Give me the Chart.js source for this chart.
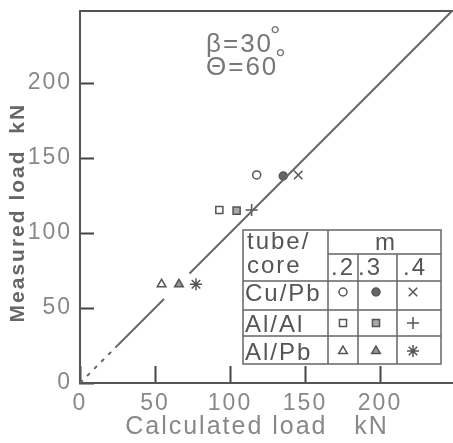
<!DOCTYPE html>
<html>
<head>
<meta charset="utf-8">
<script src="https://cdn.jsdelivr.net/npm/chart.js"></script>
<style>
  body { margin: 0; background: #fff; }
</style>
</head>
<body>
<canvas id="loadChart" width="453" height="443"></canvas>
<script>
// values (kN)
const mLabels = [".2", ".3", ".4"];
const tubeCore = ["Cu/Pb", "Al/Al", "Al/Pb"];
const calcCuPb = [117.8, 135.5, 145.5];
const measCuPb = [138.7, 138, 138.7];
const calcAlAl = [92.9, 104.4, 114.4];
const measAlAl = [115.3, 114.9, 115.3];
const calcAlPb = [54.4, 66, 77.3];
const measAlPb = [65.8, 65.8, 65.8];
const lineBreaks = [0, 25, 56, 73, 248]; // measured = calculated, dashed near 0, broken at the triangles
const axisTicks = [0, 50, 100, 150, 200];
const notes = ["\u03B2=30", "\u0398=60"];

const shapes = [["circle", "circle", "crossRot"], ["rect", "rect", "cross"], ["triangle", "triangle", "star"]];
const fills = [["#fff", "#666", "#fff"], ["#fff", "#aaa", "#fff"], ["#fff", "#999", "#fff"]];
const radii = [[4, 4, 6], [5, 5, 6], [5, 5, 6]];
const calc = [calcCuPb, calcAlAl, calcAlPb];
const meas = [measCuPb, measAlAl, measAlPb];

const datasets = [{
  label: "measured = calculated",
  data: lineBreaks.map(v => ({ x: v, y: v })),
  showLine: true,
  borderColor: "#666",
  borderWidth: 2,
  pointRadius: 0,
  segment: {
    borderDash: c => c.p0DataIndex === 0 ? [4, 6] : undefined,
    borderColor: c => c.p0DataIndex === 2 ? "rgba(0,0,0,0)" : undefined
  }
}];
tubeCore.forEach((g, gi) => {
  mLabels.forEach((m, mi) => {
    datasets.push({
      label: g + " m=" + m,
      data: [{ x: calc[gi][mi], y: meas[gi][mi] }],
      pointStyle: shapes[gi][mi],
      pointRadius: radii[gi][mi],
      pointBackgroundColor: fills[gi][mi],
      pointBorderColor: "#555",
      pointBorderWidth: 1.5
    });
  });
});

const textFont = "'Liberation Sans', Arial, sans-serif";

function noPadding(s) {
  s.paddingLeft = 0; s.paddingRight = 0; s.paddingTop = 0; s.paddingBottom = 0;
}

// stretch the plot area to the right edge like the scan
const areaPlugin = {
  id: "area",
  afterLayout(chart) {
    chart.chartArea.right = 452;
    chart.chartArea.width = 452 - chart.chartArea.left;
    ["x", "xTop"].forEach(id => {
      const s = chart.scales[id];
      s.right = 452;
      s.width = 452 - s.left;
      s.configure();
    });
  }
};

// angle notes and the legend table
const framePlugin = {
  id: "frame",
  beforeDraw(chart) { chart.ctx.letterSpacing = "2px"; },
  afterDraw(chart) {
    const { ctx, scales } = chart;
    ctx.save();
    ctx.fillStyle = "#777";
    ctx.textBaseline = "alphabetic";
    ctx.textAlign = "left";
    notes.forEach((t, i) => {
      const x = scales.x.getPixelForValue(84);
      const y = scales.y.getPixelForValue(220.7 - i * 15.3);
      ctx.font = "26px " + textFont;
      ctx.fillText(t, x, y);
      const w = ctx.measureText(t).width;
      ctx.fillText("\u00B0", x + w - 3, y - 8);
    });

    const colX = [243, 328, 358, 397, 441];
    const rowY = [230, 254, 281, 310, 336, 364];
    ctx.fillStyle = "#fff";
    ctx.fillRect(colX[0], rowY[0], colX[4] - colX[0], rowY[5] - rowY[0]);
    ctx.strokeStyle = "#666";
    ctx.lineWidth = 1.5;
    ctx.strokeRect(colX[0], rowY[0], colX[4] - colX[0], rowY[5] - rowY[0]);
    ctx.beginPath();
    ctx.moveTo(colX[1], rowY[0]); ctx.lineTo(colX[1], rowY[5]);
    ctx.moveTo(colX[1], rowY[1]); ctx.lineTo(colX[4], rowY[1]);
    [colX[2], colX[3]].forEach(x => { ctx.moveTo(x, rowY[1]); ctx.lineTo(x, rowY[5]); });
    [rowY[2], rowY[3], rowY[4]].forEach(y => { ctx.moveTo(colX[0], y); ctx.lineTo(colX[4], y); });
    ctx.stroke();

    ctx.fillStyle = "#555";
    ctx.textBaseline = "middle";
    ctx.font = "24px " + textFont;
    ctx.textAlign = "left";
    ctx.fillText("tube/", 247, 242);
    ctx.fillText("core", 247, 266);
    ctx.textAlign = "center";
    ctx.fillText("m", 386, 243);
    const mX = [343, 370, 415];
    mLabels.forEach((m, i) => ctx.fillText(m, mX[i], 268));
    ctx.textAlign = "left";
    const symX = [343, 376, 413];
    const symY = [292, 323, 351];
    tubeCore.forEach((g, gi) => {
      ctx.fillStyle = "#555";
      ctx.fillText(g, 245, symY[gi] + 2);
      mLabels.forEach((m, mi) => {
        const ds = datasets[1 + gi * 3 + mi];
        ctx.fillStyle = ds.pointBackgroundColor;
        ctx.strokeStyle = ds.pointBorderColor;
        ctx.lineWidth = ds.pointBorderWidth;
        Chart.helpers.drawPoint(ctx, { pointStyle: ds.pointStyle, radius: ds.pointRadius, rotation: 0, borderWidth: ds.pointBorderWidth }, symX[mi], symY[gi]);
      });
    });
    ctx.restore();
    ctx.letterSpacing = "0px";
  }
};

new Chart(document.getElementById("loadChart"), {
  type: "scatter",
  data: { datasets: datasets },
  plugins: [areaPlugin, framePlugin],
  options: {
    responsive: false,
    animation: false,
    layout: { padding: { top: 11, right: 1, left: 0, bottom: 0 } },
    plugins: { legend: { display: false }, tooltip: { enabled: false } },
    scales: {
      x: {
        type: "linear",
        min: 0,
        max: 248,
        afterFit: s => { s.height = 60; noPadding(s); },
        afterBuildTicks: s => { s.ticks = axisTicks.map(v => ({ value: v })); },
        // negative tick length puts the marks inside the plot, as in the scan
        grid: { drawOnChartArea: false, drawTicks: true, tickLength: -17, tickColor: "#444", tickWidth: 2 },
        border: { color: "#555", width: 2 },
        ticks: { color: "#888", font: { size: 23, family: textFont }, padding: 24, maxRotation: 0 },
        title: {
          display: true,
          text: "Calculated load   kN  ",
          color: "#888",
          font: { size: 25, family: textFont },
          padding: { top: 0, bottom: 1 }
        }
      },
      xTop: {
        type: "linear",
        position: "top",
        min: 0,
        max: 248,
        afterFit: s => { s.height = 0; noPadding(s); },
        grid: { display: false },
        ticks: { display: false },
        border: { color: "#555", width: 2 }
      },
      y: {
        type: "linear",
        min: 0,
        max: 248,
        afterFit: s => { s.width = 80; noPadding(s); },
        afterBuildTicks: s => { s.ticks = axisTicks.map(v => ({ value: v })); },
        grid: { drawOnChartArea: false, drawTicks: true, tickLength: -14, tickColor: "#444", tickWidth: 2 },
        border: { color: "#555", width: 2 },
        ticks: { color: "#888", font: { size: 23, family: textFont }, padding: 22 },
        title: {
          display: true,
          text: "Measured load  kN    ",
          color: "#666",
          font: { size: 21, family: textFont, weight: "bold" },
          padding: { top: 6, bottom: 0 }
        }
      }
    }
  }
});
</script>
</body>
</html>
